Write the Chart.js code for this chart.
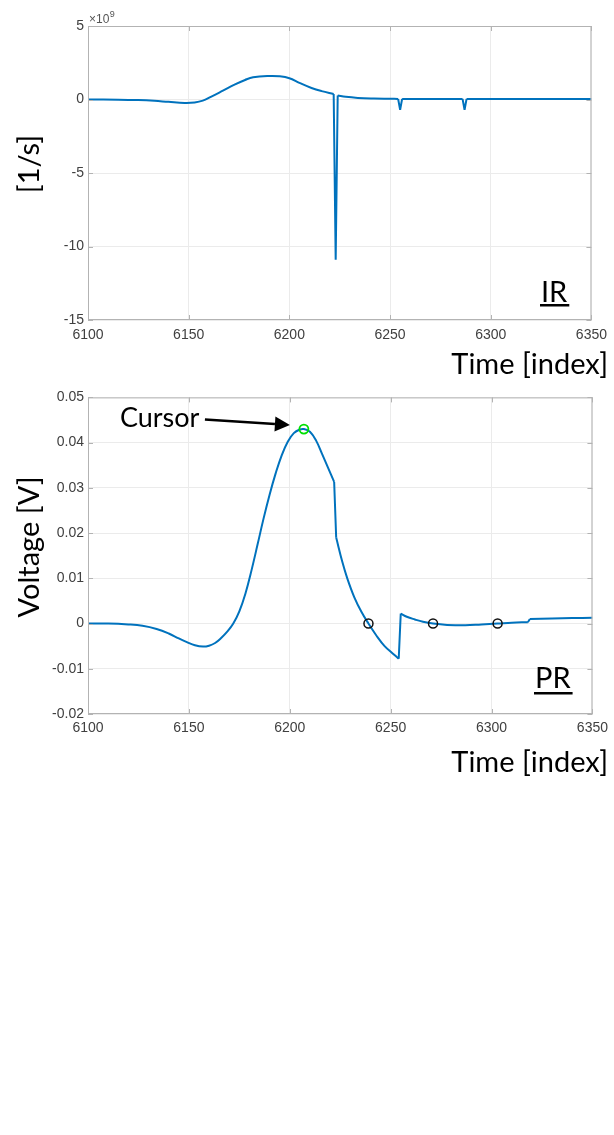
<!DOCTYPE html>
<html>
<head>
<meta charset="utf-8">
<script src="https://cdn.jsdelivr.net/npm/chart.js@4.4.1/dist/chart.umd.min.js"></script>
<style>
  html, body { margin: 0; padding: 0; background: #fff; }
  body { width: 614px; height: 1135px; position: relative; overflow: hidden; }
  canvas { position: absolute; left: 0; }
  #irChart { top: 0; }
  #prChart { top: 385px; }
</style>
</head>
<body>
<canvas id="irChart" width="614" height="385"></canvas>
<canvas id="prChart" width="614" height="401"></canvas>
<script>
// === data ===
const xTicks = [6100, 6150, 6200, 6250, 6300, 6350];
const irTicks = [-15, -10, -5, 0, 5];
const prTicks = [-0.02, -0.01, 0, 0.01, 0.02, 0.03, 0.04, 0.05];

// IR in units of 1e9 1/s
const irTime = [6100, 6115, 6125, 6133, 6140, 6148, 6153, 6157, 6161, 6167, 6172.5, 6178, 6182, 6190,
  6195, 6200, 6205, 6211, 6216, 6222, 6223, 6224, 6228, 6234, 6242, 6250, 6254, 6255, 6256, 6270,
  6286, 6287, 6288, 6320, 6350];
const irValue = [0, -0.01, -0.04, -0.09, -0.16, -0.23, -0.2, -0.08, 0.18, 0.6, 0.99, 1.33, 1.51, 1.6,
  1.58, 1.45, 1.13, 0.78, 0.57, 0.38, -10.9, 0.27, 0.18, 0.11, 0.07, 0.05, 0.04, -0.7, 0.04, 0.04,
  0.04, -0.7, 0.04, 0.04, 0.04];
// segments starting at these times are straight (spike and notches)
const irSharp = [6222, 6223, 6254, 6255, 6286, 6287];

// PR voltage [V]
const prTime = [6100, 6110, 6120, 6127, 6134, 6140, 6145, 6149, 6153, 6157, 6160, 6163, 6166, 6169,
  6172, 6175, 6178, 6181, 6184, 6187, 6190, 6193, 6196, 6199, 6202, 6205, 6207, 6210, 6213, 6216,
  6219, 6222, 6223, 6226, 6228.5, 6232, 6235.5, 6239, 6243, 6247, 6251, 6254, 6255, 6258, 6262,
  6266, 6271, 6278, 6287, 6295, 6303, 6310, 6318, 6319, 6330, 6340, 6350];
const prVoltage = [0, 0, -0.0002, -0.0005, -0.0012, -0.0022, -0.0033, -0.0041, -0.0048, -0.0051,
  -0.0049, -0.0043, -0.0032, -0.0018, 0, 0.0027, 0.0066, 0.0117, 0.0174, 0.0232, 0.0285, 0.0332,
  0.0372, 0.0402, 0.0421, 0.0429, 0.043, 0.0424, 0.0405, 0.0375, 0.0344, 0.0313, 0.019, 0.0137,
  0.01, 0.0058, 0.0026, 0, -0.0027, -0.005, -0.0066, -0.0078, 0.0022, 0.0015, 0.0009, 0.0004, 0,
  -0.0003, -0.0004, -0.0002, 0, 0.0002, 0.0003, 0.001, 0.0011, 0.0012, 0.0013];
const prSharp = [6222, 6254, 6318];

const cursorTime = [6207];
const cursorVoltage = [0.043];
const zeroTime = [6239, 6271, 6303];
const zeroVoltage = [0, 0, 0];

// === styles ===
const LINE_COLOR = "#0072BD";
const GRID_COLOR = "#ebebeb";
const BOX_COLOR = "#b3b3b3";
const TICK_FONT = { family: "'Liberation Sans', Arial, sans-serif", size: 14 };
const TICK_COLOR = "#404040";
const LABEL_FONT = "29px Lato, 'Open Sans', sans-serif";

// split a series into smooth runs and straight pieces
function buildSeries(xs, ys, sharp) {
    const runs = [];
    const straight = [];
    let cur = [{ x: xs[0], y: ys[0] }];
    for (let i = 1; i < xs.length; i++) {
        const p = { x: xs[i], y: ys[i] };
        if (sharp.includes(xs[i - 1])) {
            if (straight.length) straight.push({ x: xs[i - 1], y: null });
            straight.push({ x: xs[i - 1], y: ys[i - 1] }, p);
            if (cur.length > 1) runs.push(cur);
            cur = [p];
        } else {
            cur.push(p);
        }
    }
    if (cur.length > 1) runs.push(cur);

    const ds = runs.map(r => ({
        data: r, borderColor: LINE_COLOR, borderWidth: 2, pointRadius: 0, tension: 0.4, order: 1
    }));
    ds.push({
        data: straight, borderColor: LINE_COLOR, borderWidth: 2, pointRadius: 0, tension: 0,
        spanGaps: false, order: 1
    });
    return ds;
}

// box, inward tick marks and the text annotations (MATLAB look)
const decor = {
    id: "decor",
    afterDraw(chart, args, o) {
        const { ctx, chartArea: a, scales } = chart;
        ctx.save();

        ctx.strokeStyle = BOX_COLOR;
        ctx.lineWidth = 1;
        ctx.strokeRect(a.left + 0.5, a.top + 0.5, a.width - 1, a.height - 1);

        const tl = 5;
        ctx.beginPath();
        scales.x.ticks.forEach(t => {
            const px = Math.round(scales.x.getPixelForValue(t.value)) + 0.5;
            ctx.moveTo(px, a.bottom); ctx.lineTo(px, a.bottom - tl);
            ctx.moveTo(px, a.top); ctx.lineTo(px, a.top + tl);
        });
        scales.y.ticks.forEach(t => {
            const py = Math.round(scales.y.getPixelForValue(t.value)) + 0.5;
            ctx.moveTo(a.left, py); ctx.lineTo(a.left + tl, py);
            ctx.moveTo(a.right, py); ctx.lineTo(a.right - tl, py);
        });
        ctx.stroke();

        ctx.fillStyle = "#000";
        ctx.font = LABEL_FONT;

        ctx.textAlign = "right";
        ctx.textBaseline = "alphabetic";
        ctx.fillText("Time [index]", o.xTitleRight, o.xTitleBaseline);

        ctx.save();
        ctx.translate(30, o.yTitleY);
        ctx.rotate(-Math.PI / 2);
        ctx.textAlign = "center";
        ctx.textBaseline = "middle";
        ctx.fillText(o.yTitle, 0, 0);
        ctx.restore();

        ctx.textAlign = "left";
        ctx.textBaseline = "alphabetic";
        ctx.fillText(o.tag, o.tagLeft, o.tagBaseline);
        const w = ctx.measureText(o.tag).width;
        ctx.fillRect(o.tagLeft - 1, o.tagLineY, w + 3, 2.5);

        if (o.exponent) {
            ctx.fillStyle = "#555";
            ctx.font = "12px 'Liberation Sans', Arial, sans-serif";
            ctx.fillText("\u00d710", a.left + 1, a.top - 3);
            const ew = ctx.measureText("\u00d710").width;
            ctx.font = "9px 'Liberation Sans', Arial, sans-serif";
            ctx.fillText("9", a.left + 1 + ew + 0.5, a.top - 9);
        }

        if (o.cursor) {
            const px = scales.x.getPixelForValue(cursorTime[0]);
            const py = scales.y.getPixelForValue(cursorVoltage[0]);
            ctx.fillStyle = "#000";
            ctx.strokeStyle = "#000";
            ctx.font = "27px Lato, 'Open Sans', sans-serif";
            ctx.fillText("Cursor", px - 184, py - 2);

            const x0 = px - 99, y0 = py - 9.5, x1 = px - 14, y1 = py - 4;
            const ang = Math.atan2(y1 - y0, x1 - x0);
            const hl = 15, hw = 7.5;
            const bx = x1 - hl * Math.cos(ang), by = y1 - hl * Math.sin(ang);
            ctx.lineWidth = 2.5;
            ctx.beginPath();
            ctx.moveTo(x0, y0); ctx.lineTo(bx, by);
            ctx.stroke();
            ctx.beginPath();
            ctx.moveTo(x1, y1);
            ctx.lineTo(bx + hw * Math.sin(ang), by - hw * Math.cos(ang));
            ctx.lineTo(bx - hw * Math.sin(ang), by + hw * Math.cos(ang));
            ctx.closePath();
            ctx.fill();
        }
        ctx.restore();
    }
};

function makeScales(yTicks, yMin, yMax, xHeight, xPad, yFmt) {
    return {
        x: {
            type: "linear", min: 6100, max: 6350,
            afterBuildTicks: s => { s.ticks = xTicks.map(v => ({ value: v })); },
            afterFit: s => { s.height = xHeight; },
            ticks: { font: TICK_FONT, color: TICK_COLOR, padding: xPad, maxRotation: 0, autoSkip: false,
                     callback: v => String(v) },
            grid: { color: GRID_COLOR, drawTicks: false },
            border: { display: false }
        },
        y: {
            type: "linear", min: yMin, max: yMax,
            afterBuildTicks: s => { s.ticks = yTicks.map(v => ({ value: v })); },
            afterFit: s => { s.width = 88; },
            ticks: { font: TICK_FONT, color: TICK_COLOR, padding: 4, autoSkip: false, callback: yFmt },
            grid: { color: GRID_COLOR, drawTicks: false },
            border: { display: false }
        }
    };
}

const common = {
    responsive: false,
    animation: false,
    devicePixelRatio: 1,
    events: []
};

new Chart(document.getElementById("irChart").getContext("2d"), {
    type: "line",
    data: { datasets: buildSeries(irTime, irValue, irSharp) },
    options: Object.assign({}, common, {
        layout: { padding: { top: 26, right: 21, left: 0, bottom: 0 } },
        scales: makeScales(irTicks, -15, 5, 65, 7, v => String(v)),
        plugins: {
            legend: { display: false },
            tooltip: { enabled: false },
            decor: {
                yTitle: "[1/s]", yTitleY: 164,
                xTitleRight: 608, xTitleBaseline: 374,
                tag: "IR", tagLeft: 541, tagBaseline: 302, tagLineY: 304,
                exponent: true, cursor: false
            }
        }
    }),
    plugins: [decor]
});

const markerSets = [{
    data: cursorTime.map((x, i) => ({ x: x, y: cursorVoltage[i] })),
    showLine: false,
    pointRadius: 4.5,
    pointBorderWidth: 1.8,
    pointBorderColor: "#00e000",
    pointBackgroundColor: "rgba(0,0,0,0)",
    order: 0
}, {
    data: zeroTime.map((x, i) => ({ x: x, y: zeroVoltage[i] })),
    showLine: false,
    pointRadius: 4.5,
    pointBorderWidth: 1.5,
    pointBorderColor: "#111",
    pointBackgroundColor: "rgba(0,0,0,0)",
    order: 0
}];

new Chart(document.getElementById("prChart").getContext("2d"), {
    type: "line",
    data: { datasets: markerSets.concat(buildSeries(prTime, prVoltage, prSharp)) },
    options: Object.assign({}, common, {
        layout: { padding: { top: 10, right: 21, left: 0, bottom: 0 } },
        scales: makeScales(prTicks, -0.02, 0.05, 72, 6, v => String(+v.toFixed(2))),
        plugins: {
            legend: { display: false },
            tooltip: { enabled: false },
            decor: {
                yTitle: "Voltage [V]", yTitleY: 162,
                xTitleRight: 608, xTitleBaseline: 387,
                tag: "PR", tagLeft: 535, tagBaseline: 303, tagLineY: 307,
                exponent: false, cursor: true
            }
        }
    }),
    plugins: [decor]
});
</script>
</body>
</html>
